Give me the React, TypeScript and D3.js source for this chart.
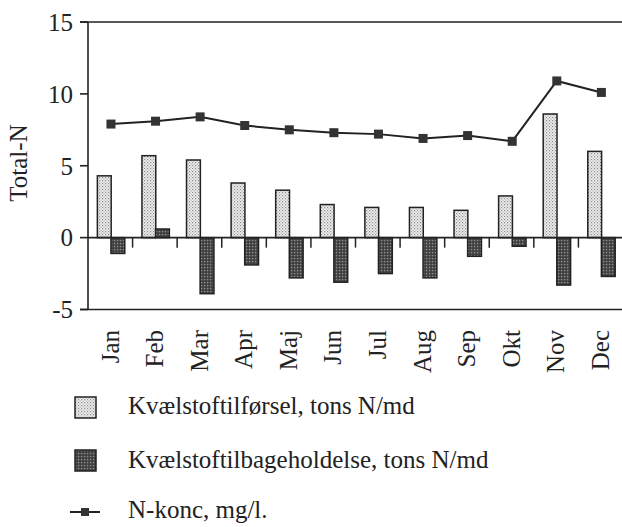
import React from "react";
import * as d3 from "d3";

const months = ["Jan", "Feb", "Mar", "Apr", "Maj", "Jun", "Jul", "Aug", "Sep", "Okt", "Nov", "Dec"];
const tilfoersel = [4.3, 5.7, 5.4, 3.8, 3.3, 2.3, 2.1, 2.1, 1.9, 2.9, 8.6, 6.0];
const tilbageholdelse = [-1.1, 0.6, -3.9, -1.9, -2.8, -3.1, -2.5, -2.8, -1.3, -0.6, -3.3, -2.7];
const nKonc = [7.9, 8.1, 8.4, 7.8, 7.5, 7.3, 7.2, 6.9, 7.1, 6.7, 10.9, 10.1];
const yTicks = [15, 10, 5, 0, -5];
const legendLabels = [
  "Kvælstoftilførsel, tons N/md",
  "Kvælstoftilbageholdelse, tons N/md",
  "N-konc, mg/l.",
];

const W = 622;
const H = 527;
const txt: React.CSSProperties = { fontFamily: "Liberation Serif, DejaVu Serif, serif", fontSize: "25px" };

export default function App() {
  const left = 88;
  const right = 623;
  const x = d3.scaleBand<string>().domain(months).range([left, right]).paddingInner(0).paddingOuter(0);
  const y = d3.scaleLinear().domain([-5, 15]).range([309.5, 22]);
  const bw = x.bandwidth();
  const barW = bw * 0.31;
  const lightOff = bw * 0.21;
  const darkOff = bw * 0.515;
  const y0 = y(0);

  const line = d3
    .line<number>()
    .x((_, i) => (x(months[i]) as number) + darkOff)
    .y((d) => y(d));

  return (
    <svg width={W} height={H} style={{ position: "absolute", left: 0, top: 0, background: "#fff" }}>
      <defs>
        <pattern id="lightPat" patternUnits="userSpaceOnUse" width="3" height="3">
          <rect width="3" height="3" fill="#f0f0f0" />
          <rect x="0" y="0" width="1.2" height="1.2" fill="#8a8a8a" />
          <rect x="1.5" y="1.5" width="1.2" height="1.2" fill="#a8a8a8" />
        </pattern>
        <pattern id="darkPat" patternUnits="userSpaceOnUse" width="3" height="3">
          <rect width="3" height="3" fill="#4a4a4a" />
          <rect x="0" y="0" width="1.2" height="1.2" fill="#8f8f8f" />
          <rect x="1.5" y="1.5" width="1.2" height="1.2" fill="#2e2e2e" />
        </pattern>
      </defs>

      {/* frame */}
      <line x1={80} x2={W} y1={y(15)} y2={y(15)} stroke="#222" strokeWidth={1.6} />
      <line x1={80} x2={W} y1={y(-5)} y2={y(-5)} stroke="#222" strokeWidth={1.6} />
      <line x1={left} x2={left} y1={y(15)} y2={y(-5)} stroke="#222" strokeWidth={1.6} />

      {/* y ticks + labels */}
      {yTicks.map((t) => (
        <g key={t}>
          <line x1={80} x2={left} y1={y(t)} y2={y(t)} stroke="#222" strokeWidth={1.6} />
          <text x={73} y={y(t)} dy="0.35em" textAnchor="end" style={txt} fill="#222">
            {t}
          </text>
        </g>
      ))}

      {/* y title */}
      <text transform={`translate(27,163) rotate(-90)`} textAnchor="middle" style={txt} fill="#222">
        Total-N
      </text>

      {/* bars */}
      {months.map((m, i) => {
        const x0 = x(m) as number;
        const v1 = tilfoersel[i];
        const v2 = tilbageholdelse[i];
        return (
          <g key={m}>
            <rect
              x={x0 + lightOff}
              y={Math.min(y(v1), y0)}
              width={barW}
              height={Math.abs(y(v1) - y0)}
              fill="url(#lightPat)"
              stroke="#222"
              strokeWidth={1.5}
            />
            <rect
              x={x0 + darkOff}
              y={Math.min(y(v2), y0)}
              width={barW}
              height={Math.abs(y(v2) - y0)}
              fill="url(#darkPat)"
              stroke="#222"
              strokeWidth={1.5}
            />
          </g>
        );
      })}

      {/* zero line and category ticks */}
      <line x1={left} x2={W} y1={y0} y2={y0} stroke="#222" strokeWidth={1.6} />
      {months.slice(1).map((m) => (
        <line
          key={m}
          x1={x(m) as number}
          x2={x(m) as number}
          y1={y0}
          y2={y0 + 10}
          stroke="#222"
          strokeWidth={1.5}
        />
      ))}

      {/* N-konc line */}
      <path d={line(nKonc) as string} fill="none" stroke="#222" strokeWidth={2} />
      {nKonc.map((v, i) => (
        <rect
          key={i}
          x={(x(months[i]) as number) + darkOff - 4.5}
          y={y(v) - 4.5}
          width={9}
          height={9}
          fill="#333"
        />
      ))}

      {/* month labels */}
      {months.map((m) => (
        <text
          key={m}
          transform={`translate(${(x(m) as number) + bw / 2},330) rotate(-90)`}
          dy="0.33em"
          textAnchor="end"
          style={txt}
          fill="#222"
        >
          {m}
        </text>
      ))}

      {/* legend */}
      <rect x={75} y={397} width={21} height={21} fill="url(#lightPat)" stroke="#222" strokeWidth={1.5} />
      <text x={128} y={414} style={txt} fill="#222">
        {legendLabels[0]}
      </text>
      <rect x={75} y={450} width={21} height={21} fill="url(#darkPat)" stroke="#222" strokeWidth={1.5} />
      <text x={128} y={468} style={txt} fill="#222">
        {legendLabels[1]}
      </text>
      <line x1={70} x2={100} y1={512} y2={512} stroke="#222" strokeWidth={2} />
      <rect x={81} y={508} width={8} height={8} fill="#333" />
      <text x={128} y={518} style={txt} fill="#222">
        {legendLabels[2]}
      </text>
    </svg>
  );
}
